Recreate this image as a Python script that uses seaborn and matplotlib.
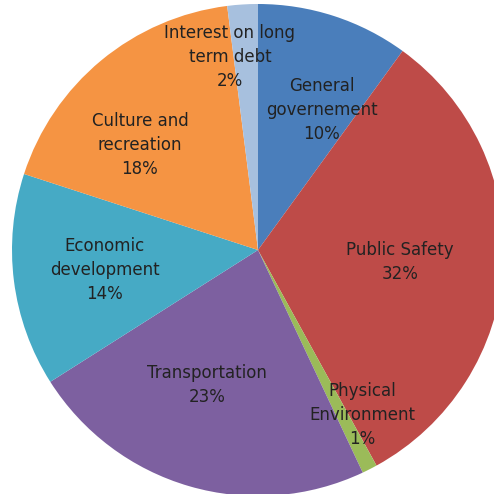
import matplotlib
matplotlib.use("Agg")
import matplotlib.pyplot as plt
import seaborn as sns

categories = ["General\ngovernement", "Public Safety", "Physical\nEnvironment",
              "Transportation", "Economic\ndevelopment", "Culture and\nrecreation",
              "Interest on long\nterm debt"]
values = [10, 32, 1, 23, 14, 18, 2]
colors = ["#4a7ebb", "#be4b48", "#9bbb59", "#7d60a0", "#46aac5", "#f59443", "#a7c0de"]

# label anchor positions (pie units, radius 1)
label_pos = [(0.26, 0.569), (0.577, -0.049), (0.423, -0.67), (-0.207, -0.549),
             (-0.622, -0.081), (-0.48, 0.427), (-0.114, 0.785)]

sns.set_theme(style="white")
plt.rcParams['font.family'] = ['DejaVu Sans']

fig = plt.figure(figsize=(4.94, 4.94), dpi=100)
ax = fig.add_axes([0, 0, 1, 1])
ax.pie(values, colors=colors, startangle=90, counterclock=False,
       wedgeprops=dict(linewidth=0), radius=1.0, center=(0, 0))
total = sum(values)
for cat, v, (x, y) in zip(categories, values, label_pos):
    ax.text(x, y, f"{cat}\n{round(100 * v / total)}%", ha="center", va="center",
            fontsize=12, color="#222222", linespacing=1.42)
ax.set_xlim(-258 / 246, (494 - 258) / 246)
ax.set_ylim(-244 / 246, 250 / 246)
ax.set_aspect("auto")
ax.axis("off")
fig.savefig("out.png", dpi=100, facecolor="white")
